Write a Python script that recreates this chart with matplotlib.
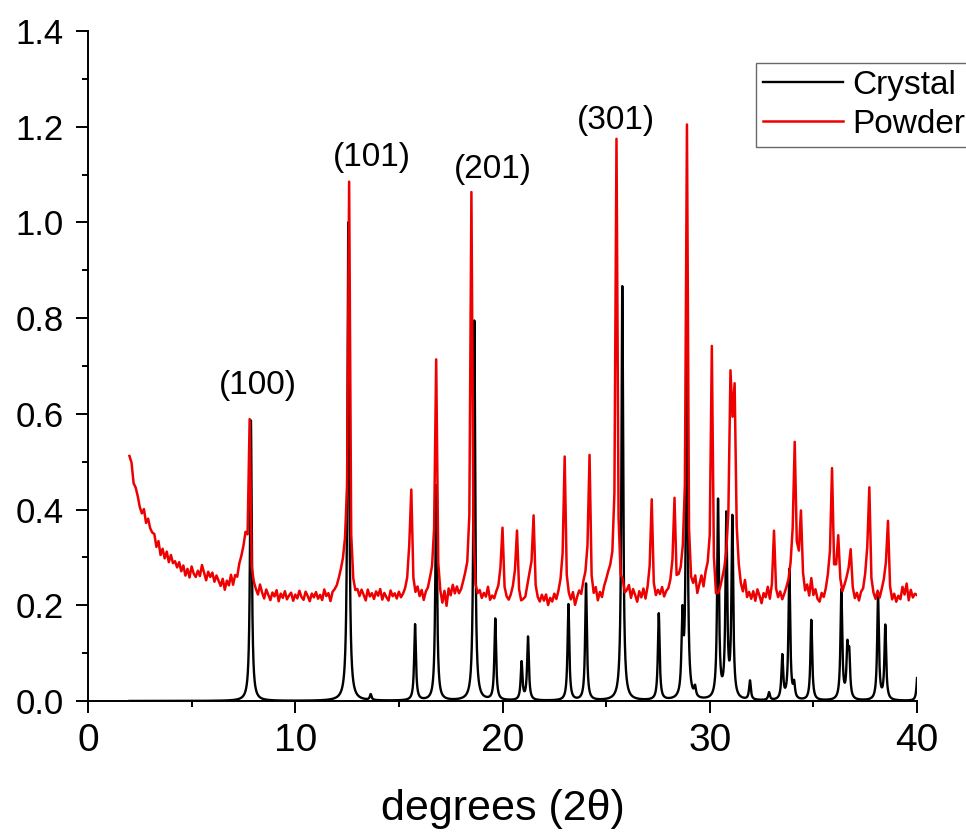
import numpy as np
import matplotlib.pyplot as plt

plt.rcParams['font.family'] = ['Liberation Sans', 'DejaVu Sans']

# Powder pattern: measured background, 2.0 .. 40.0 deg in 0.1 deg steps (x1000)
powder_bg = np.array([
    512, 498, 455, 446, 428, 405, 392, 401, 372, 381,
    361, 352, 349, 322, 334, 305, 318, 298, 312, 290,
    305, 288, 292, 279, 290, 271, 283, 262, 276, 258,
    281, 266, 259, 272, 261, 284, 268, 252, 270, 259,
    268, 249, 262, 251, 240, 255, 232, 251, 241, 263,
    242, 262, 258, 285, 300, 318, 340, 300, 240, 232,
    236, 228, 219, 241, 225, 213, 232, 221, 210, 226,
    218, 231, 208, 224, 215, 229, 212, 220, 226, 209,
    222, 214, 230, 217, 211, 228, 219, 208, 224, 216,
    227, 213, 221, 210, 232, 218, 224, 207, 226, 231,
    238, 252, 268, 285, 310, 340, 300, 240, 226, 218,
    226, 214, 229, 219, 208, 231, 217, 224, 212, 228,
    219, 233, 211, 225, 216, 209, 230, 218, 224, 213,
    227, 215, 222, 232, 250, 300, 260, 232, 220, 235,
    216, 229, 208, 225, 232, 250, 265, 300, 280, 228,
    214, 197, 225, 195, 232, 218, 240, 222, 236, 221,
    228, 242, 255, 262, 285, 320, 250, 215, 212, 224,
    210, 222, 215, 236, 209, 218, 212, 226, 236, 262,
    250, 222, 213, 208, 219, 235, 258, 250, 218, 205,
    210, 215, 240, 262, 275, 270, 225, 212, 205, 220,
    208, 221, 199, 214, 206, 222, 210, 226, 245, 275,
    270, 230, 216, 207, 224, 198, 215, 228, 220, 245,
    260, 290, 270, 228, 215, 232, 206, 224, 213, 235,
    248, 262, 270, 280, 320, 350, 270, 232, 240, 218,
    226, 238, 212, 231, 219, 205, 227, 214, 232, 210,
    232, 260, 270, 225, 214, 228, 220, 235, 215, 226,
    230, 245, 270, 260, 235, 250, 262, 290, 330, 340,
    240, 225, 230, 252, 218, 238, 256, 232, 260, 270,
    280, 270, 235, 205, 215, 230, 250, 270, 300, 360,
    450, 530, 430, 330, 275, 240, 225, 250, 215, 226,
    212, 228, 208, 232, 219, 203, 224, 215, 236, 209,
    230, 255, 220, 212, 226, 210, 222, 235, 250, 280,
    330, 330, 300, 290, 280, 250, 225, 240, 218, 255,
    220, 232, 212, 206, 224, 215, 232, 258, 290, 320,
    260, 270, 280, 245, 225, 240, 255, 270, 265, 230,
    212, 224, 208, 226, 232, 260, 300, 290, 235, 220,
    210, 228, 214, 232, 250, 275, 270, 225, 208, 222,
    206, 219, 212, 238, 222, 245, 210, 232, 216, 224,
    221,
]) / 1000
powder_x = np.round(2.0 + 0.1 * np.arange(len(powder_bg)), 1)

# Powder reflections: position (deg) and top of the peak
powder_pos = [7.8, 12.6, 15.6, 16.8, 18.5, 20.0, 20.7, 21.5, 23.0, 24.2, 25.5,
              27.2, 28.3, 28.9, 30.1, 31.0, 31.2, 33.1, 34.1, 34.4, 35.9, 36.2,
              36.8, 37.7, 38.6]
powder_top = [0.589, 1.085, 0.441, 0.713, 1.063, 0.361, 0.355, 0.387, 0.510,
              0.513, 1.174, 0.420, 0.420, 1.203, 0.740, 0.681, 0.654, 0.355,
              0.539, 0.394, 0.485, 0.343, 0.316, 0.446, 0.376]

# Single crystal (simulated) reflections: position (deg) and height
crystal_pos = [7.86, 12.56, 13.64, 15.78, 16.80, 18.64, 19.65, 20.92, 21.23,
               23.18, 24.03, 25.78, 27.54, 28.68, 28.89, 29.29, 30.40, 30.80,
               31.09, 31.94, 32.86, 33.50, 33.84, 34.07, 34.90, 36.35, 36.64,
               36.73, 38.12, 38.47, 40.02]
crystal_height = [0.586, 1.00, 0.012, 0.159, 0.45, 0.794, 0.170, 0.079, 0.132,
                  0.201, 0.244, 0.866, 0.181, 0.16, 0.72, 0.02, 0.414, 0.378,
                  0.375, 0.040, 0.016, 0.091, 0.272, 0.03, 0.168, 0.229, 0.10,
                  0.085, 0.217, 0.155, 0.055]

peak_labels = ['(100)', '(101)', '(201)', '(301)']
label_x = [8.2, 13.7, 19.55, 25.48]
label_y = [0.66, 1.135, 1.11, 1.214]


def lorentz(x, x0, h, gamma):
    return h / (1 + ((x - x0) / gamma) ** 2)


# build powder curve on the measured grid
powder_y = powder_bg.copy()
for p, top in zip(powder_pos, powder_top):
    i = int(round((p - 2.0) / 0.1))
    powder_y += lorentz(powder_x, p, top - powder_bg[i], 0.04)

crystal_x = np.linspace(2, 40, 7601)
crystal_y = np.zeros_like(crystal_x)
for p, h in zip(crystal_pos, crystal_height):
    crystal_y += lorentz(crystal_x, p, h, 0.05)

fig = plt.figure(figsize=(9.66, 8.34), dpi=100)
ax = fig.add_axes([88 / 966, 133 / 834, 829 / 966, 670 / 834])

ax.plot(crystal_x, crystal_y, color='black', lw=1.7, label='Crystal')
ax.plot(powder_x, powder_y, color='#ee0000', lw=1.8, label='Powder')

for txt, x, y in zip(peak_labels, label_x, label_y):
    ax.text(x, y, txt, fontsize=24, ha='center', va='center')

ax.set_xlim(0, 40)
ax.set_ylim(0, 1.4)
ax.set_xticks([0, 10, 20, 30, 40])
ax.set_xticks(np.arange(5, 40, 10), minor=True)
ax.set_yticks(np.arange(0, 1.41, 0.2))
ax.set_yticks(np.arange(0.1, 1.4, 0.2), minor=True)
ax.yaxis.set_major_formatter(plt.FormatStrFormatter('%.1f'))

ax.spines['top'].set_visible(False)
ax.spines['right'].set_visible(False)
for s in ['left', 'bottom']:
    ax.spines[s].set_linewidth(1.4)
ax.tick_params(which='major', direction='out', length=8.5, width=1.4)
ax.tick_params(which='minor', direction='out', length=4.5, width=1.4)
ax.tick_params(axis='x', labelsize=28, pad=7)
ax.tick_params(axis='y', labelsize=25, pad=9)

ax.set_xlabel('degrees (2\u03b8)', fontsize=31, labelpad=22)

fig.legend(loc='upper left', bbox_to_anchor=(756 / 966, 1 - 63 / 834),
           fontsize=24, frameon=True, fancybox=False, edgecolor='#444444',
           borderaxespad=0, borderpad=0.2, handlelength=2.4,
           handletextpad=0.3, labelspacing=0.25)

fig.savefig('out.png', dpi=100)
